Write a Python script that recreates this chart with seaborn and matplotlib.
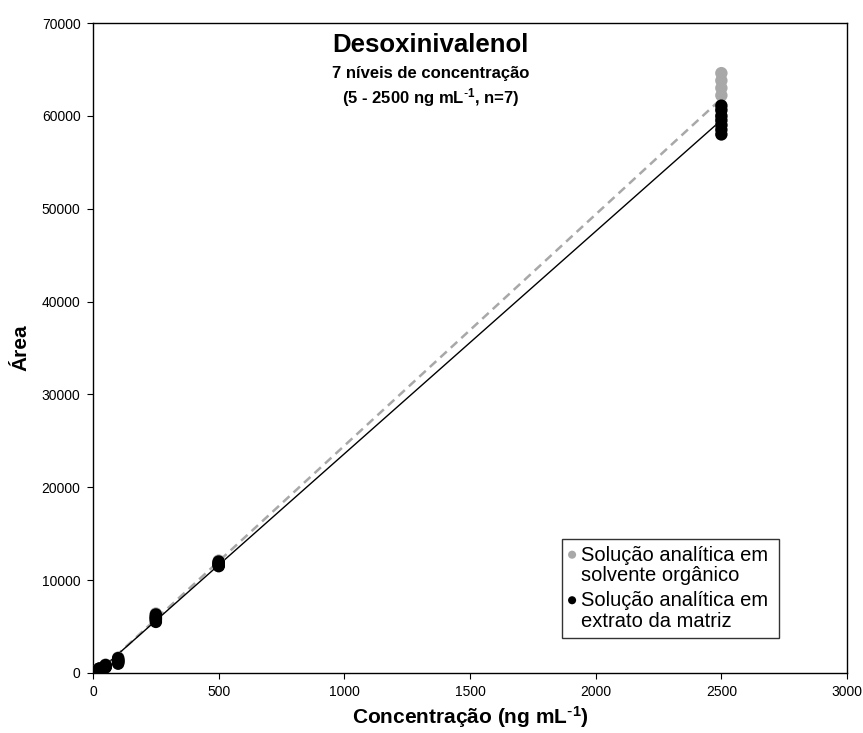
import numpy as np
import pandas as pd
import matplotlib
matplotlib.use("Agg")
import matplotlib.pyplot as plt
from matplotlib.collections import PathCollection
from matplotlib.legend_handler import HandlerPathCollection
import seaborn as sns

# Concentration levels (ng/mL) and replicate peak areas
levels = [5, 25, 50, 100, 250, 500, 2500]

area_solvent = [
    [95, 120, 130, 110, 140, 115, 105],
    [400, 440, 470, 420, 490, 450, 430],
    [650, 750, 900, 800, 700, 850, 770],
    [1050, 1200, 1350, 1500, 1650, 1250, 1400],
    [5600, 5800, 6000, 6200, 6400, 5900, 6100],
    [11600, 11700, 11800, 11900, 12000, 12100, 11750],
    [64600, 63800, 63000, 62200, 60800, 59800, 59000],
]
area_matrix = [
    [90, 110, 120, 100, 130, 105, 95],
    [380, 420, 450, 400, 470, 430, 410],
    [600, 700, 850, 750, 650, 800, 720],
    [1000, 1150, 1300, 1450, 1600, 1200, 1350],
    [5500, 5700, 5900, 6100, 6300, 5800, 6000],
    [11500, 11600, 11700, 11800, 11900, 12000, 11650],
    [61100, 60600, 60000, 59500, 59000, 58500, 58000],
]

label_solvent = "Solução analítica em\nsolvente orgânico"
label_matrix = "Solução analítica em\nextrato da matriz"

x_ticks = [0, 500, 1000, 1500, 2000, 2500, 3000]
y_ticks = [0, 10000, 20000, 30000, 40000, 50000, 60000, 70000]


def to_long(areas, label):
    rows = []
    for c, reps in zip(levels, areas):
        for a in reps:
            rows.append({"conc": c, "area": a, "serie": label})
    return rows


df = pd.DataFrame(to_long(area_solvent, label_solvent) + to_long(area_matrix, label_matrix))

sns.set_style("ticks")
plt.rcParams["font.family"] = ["Liberation Sans", "DejaVu Sans"]
plt.rcParams["mathtext.default"] = "regular"
for key in ["text.color", "axes.labelcolor", "xtick.color", "ytick.color"]:
    plt.rcParams[key] = "black"

fig = plt.figure(figsize=(8.63, 7.33), dpi=100)
ax = fig.add_axes([0.1078, 0.0819, 0.8737, 0.8867])

palette = {label_solvent: "#a8a8a8", label_matrix: "#000000"}

# Least-squares calibration lines for each series
xfit = np.array([min(levels), max(levels)], dtype=float)
for label, style, lw, col in [(label_solvent, (0, (3.5, 2.2)), 1.8, "#a8a8a8"),
                               (label_matrix, "-", 1.0, "#000000")]:
    sub = df[df["serie"] == label]
    b, a = np.polyfit(sub["conc"], sub["area"], 1)
    fit_df = pd.DataFrame({"conc": xfit, "area": a + b * xfit})
    sns.lineplot(data=fit_df, x="conc", y="area", ax=ax, color=col,
                 linestyle=style, linewidth=lw, legend=False, zorder=2)

sns.scatterplot(data=df[df["serie"] == label_solvent], x="conc", y="area",
                color=palette[label_solvent], s=80, edgecolor="none",
                ax=ax, label=label_solvent, zorder=3)
sns.scatterplot(data=df[df["serie"] == label_matrix], x="conc", y="area",
                color=palette[label_matrix], s=80, edgecolor="none",
                ax=ax, label=label_matrix, zorder=4)

ax.set_xlim(0, 3000)
ax.set_ylim(0, 70000)
ax.set_xticks(x_ticks)
ax.set_yticks(y_ticks)
ax.tick_params(axis="both", direction="out", length=4, width=0.8,
               labelsize=10, colors="black", pad=5)
for sp in ax.spines.values():
    sp.set_linewidth(1.0)
    sp.set_color("black")

ax.set_xlabel("Concentração (ng mL$^{\\text{-}1}$)", fontsize=15, fontweight="bold", labelpad=3)
ax.set_ylabel("Área", fontsize=15, fontweight="bold", labelpad=8)

ax.text(0.448, 0.966, "Desoxinivalenol", transform=ax.transAxes,
        ha="center", va="center", fontsize=18.5, fontweight="bold")
ax.text(0.448, 0.923, "7 níveis de concentração", transform=ax.transAxes,
        ha="center", va="center", fontsize=12, fontweight="bold")
ax.text(0.448, 0.886, "(5 - 2500 ng mL$^{\\text{-}1}$, n=7)", transform=ax.transAxes,
        ha="center", va="center", fontsize=12, fontweight="bold")

leg = ax.legend(loc="lower left", bbox_to_anchor=(0.622, 0.054, 0.288, 0.154),
                mode="expand", frameon=True, fancybox=False, fontsize=14.5,
                markerscale=0.65, handletextpad=0.3, handlelength=0.3,
                borderpad=0.35, labelspacing=0.3, borderaxespad=0,
                handler_map={PathCollection: HandlerPathCollection(yoffsets=[1.3])})
for t in leg.get_texts():
    t.set_linespacing(1.1)
leg.get_frame().set_edgecolor("black")
leg.get_frame().set_linewidth(1.0)

fig.savefig("out.png", dpi=100)
